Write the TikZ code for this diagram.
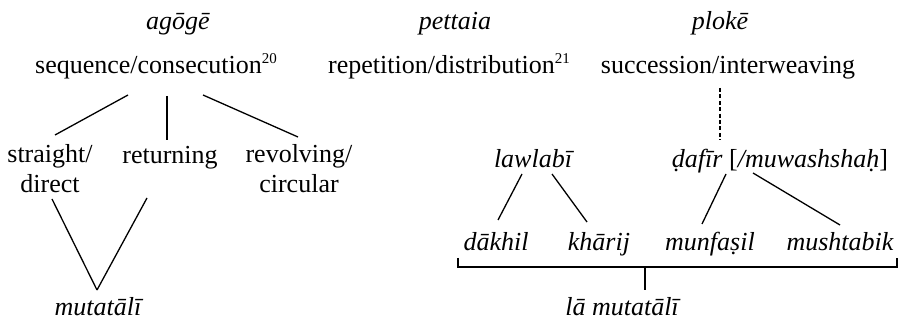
\documentclass[tikz,border=0pt]{standalone}
\usepackage{fontspec}
\setmainfont{Liberation Serif}
\usetikzlibrary{positioning}
\newcommand{\tmsup}[1]{\raisebox{0.42em}{\fontsize{7.5}{7.5}\selectfont #1}}
\tikzset{
  tmterm/.style={inner sep=0pt, anchor=base, font=\fontsize{13}{15}\selectfont},
  tmname/.style={tmterm, font=\fontsize{13}{15}\selectfont\itshape},
  tmpair/.style={tmterm, align=center},
  tmedge/.style={draw=black, line width=0.65pt},
  tmdash/.style={tmedge, dash pattern=on 2pt off 1.2pt},
}

\begin{document}
\begin{tikzpicture}[x=0.5pt,y=-0.5pt]
  \useasboundingbox (0,0) rectangle (899,320);
  % greek heads
  \node[tmname] (agoge)   at (178,30) {agōgē};
  \node[tmname] (pettaia) at (455,30) {pettaia};
  \node[tmname] (ploke)   at (720,30) {plokē};
  % english terms
  \node[tmterm] (seq)  at (156,74) {sequence/consecution\tmsup{20}};
  \node[tmterm] (rep)  at (449,74) {repetition/distribution\tmsup{21}};
  \node[tmterm] (succ) at (728,74) {succession/interweaving};
  \node[tmpair] (straight)  at (50,193)  {straight/\\direct};
  \node[tmterm] (returning) at (170,164) {returning};
  \node[tmpair] (revolving) at (299,193) {revolving/\\circular};
  \node[tmname] (mutatali)  at (98,315)  {mutatālī};
  % arabic terms
  \node[tmname] (lawlabi) at (533,168) {lawlabī};
  \node[tmterm] (dafir)   at (780,168) {\textit{ḍafīr} [\textit{/muwashshaḥ}]};
  \node[tmname] (dakhil)    at (496,250) {dākhil};
  \node[tmname] (kharij)    at (599,250) {khārij};
  \node[tmname] (munfasil)  at (710,250) {munfaṣil};
  \node[tmname] (mushtabik) at (840,250) {mushtabik};
  \node[tmname] (lamutatali) at (622,315) {lā mutatālī};

  \draw[tmedge] ([shift={(-28,21)}]seq.base) -- ([shift={(5,-58)}]straight.base);
  \draw[tmedge] ([shift={(11,22)}]seq.base) -- ([shift={(-3,-24)}]returning.base);
  \draw[tmedge] ([shift={(47,21)}]seq.base) -- ([shift={(-1,-56)}]revolving.base);
  \draw[tmedge] ([shift={(2,6)}]straight.base) -- ([shift={(-1,-25)}]mutatali.base);
  \draw[tmedge] ([shift={(-23,34)}]returning.base) -- ([shift={(-1,-25)}]mutatali.base);
  \draw[tmdash] ([shift={(-8,14)}]succ.base) -- ([shift={(-60,-28)}]dafir.base);
  \draw[tmedge] ([shift={(-11,6)}]lawlabi.base) -- ([shift={(2,-30)}]dakhil.base);
  \draw[tmedge] ([shift={(19,6)}]lawlabi.base) -- ([shift={(-12,-28)}]kharij.base);
  \draw[tmedge] ([shift={(-54,6)}]dafir.base) -- ([shift={(-8,-26)}]munfasil.base);
  \draw[tmedge] ([shift={(-27,5)}]dafir.base) -- ([shift={(0,-25)}]mushtabik.base);

  % bracket over the four arabic leaves
  \coordinate (brL) at (458,267);
  \coordinate (brR) at (897,267);
  \coordinate (brM) at (645,267);
  \draw[tmedge] ([shift={(0,-9)}]brL) -- (brL) -- (brR) -- ([shift={(0,-9)}]brR);
  \draw[tmedge] (brM) -- ([shift={(23,-25)}]lamutatali.base);
\end{tikzpicture}
\end{document}
